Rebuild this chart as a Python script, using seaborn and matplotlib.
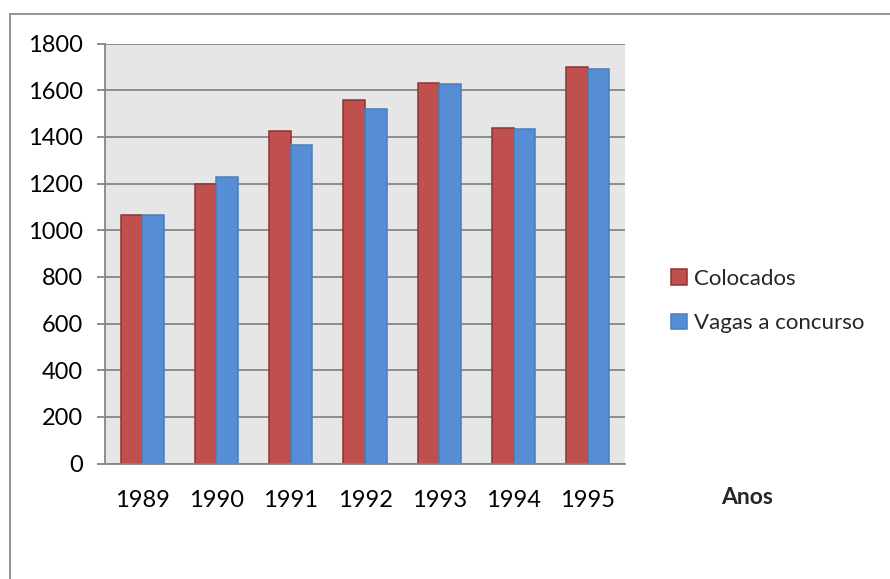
import matplotlib
matplotlib.use("Agg")
import matplotlib.pyplot as plt
import pandas as pd
import seaborn as sns
from matplotlib.lines import Line2D

years = ["1989", "1990", "1991", "1992", "1993", "1994", "1995"]
colocados = [1066, 1196, 1427, 1557, 1629, 1440, 1700]
vagas = [1066, 1227, 1363, 1519, 1627, 1434, 1691]
series_names = ["Colocados", "Vagas a concurso"]
y_ticks = [0, 200, 400, 600, 800, 1000, 1200, 1400, 1600, 1800]

df = pd.DataFrame({
    "Ano": years * 2,
    "Valor": colocados + vagas,
    "Serie": [series_names[0]] * len(years) + [series_names[1]] * len(years),
})

sns.set_theme(style="white")
plt.rcParams["font.family"] = ["Lato", "DejaVu Sans"]

W, H = 890, 579
fig = plt.figure(figsize=(W / 100, H / 100), dpi=100)
ax = fig.add_axes([105 / W, 1 - 463.5 / H, 520 / W, 420 / H])

fills = {"Colocados": "#C0504D", "Vagas a concurso": "#558ED5"}
edges = {"Colocados": "#8E3432", "Vagas a concurso": "#4A7EBB"}

sns.barplot(data=df, x="Ano", y="Valor", hue="Serie", hue_order=series_names,
            palette=fills, width=0.58, gap=0, ax=ax, legend=False,
            errorbar=None, saturation=1, zorder=3)
for cont, name in zip(ax.containers, series_names):
    for bar in cont:
        bar.set_edgecolor(edges[name])
        bar.set_linewidth(1.1)

grid_c = "#868686"
ax.set_facecolor("#E6E6E6")
ax.set_xlim(-0.5, len(years) - 0.5)
ax.set_ylim(0, 1800)
ax.set_yticks(y_ticks)
ax.yaxis.grid(True, color=grid_c, linewidth=1.3, zorder=0)
ax.set_axisbelow(True)
ax.set_xlabel("")
ax.set_ylabel("")
for s in ["top", "right"]:
    ax.spines[s].set_visible(False)
for s in ["left", "bottom"]:
    ax.spines[s].set_color(grid_c)
    ax.spines[s].set_linewidth(1.3)
    ax.spines[s].set_zorder(4)

# category labels centred under each pair, tick marks between categories
ax.set_xticks(range(len(years)))
ax.set_xticklabels(years)
ax.tick_params(axis="x", which="major", length=0, pad=19, labelsize=17, colors="black")
ax.set_xticks([i - 0.5 for i in range(len(years) + 1)], minor=True)
ax.tick_params(axis="x", which="minor", length=6, width=1.3, color=grid_c, direction="out")
ax.tick_params(axis="y", length=6, width=1.3, color=grid_c, direction="out", pad=10,
               labelsize=17, colors="black")
ax.xaxis.set_tick_params(which="minor", color=grid_c)
ax.yaxis.set_tick_params(color=grid_c)
ax.tick_params(left=True, bottom=True)

fig.text(747 / W, 1 - 498 / H, "Anos", fontsize=16.5, fontweight="bold",
         ha="center", va="center")

handles = [plt.Rectangle((0, 0), 1, 1, facecolor=fills[n], edgecolor=edges[n], linewidth=1.1)
           for n in series_names]
fig.legend(handles, series_names, loc="center left",
           bbox_to_anchor=(662 / W, 1 - 301 / H), frameon=False, fontsize=16,
           handlelength=0.72, handleheight=0.72, handletextpad=0.3,
           labelspacing=1.1, borderaxespad=0)

# chart frame (left and top edges)
fig.add_artist(Line2D([9.5 / W, 9.5 / W], [0, 1 - 13.5 / H], transform=fig.transFigure,
                      color="#8C8C8C", linewidth=1.3))
fig.add_artist(Line2D([9.5 / W, 1], [1 - 13.5 / H, 1 - 13.5 / H], transform=fig.transFigure,
                      color="#8C8C8C", linewidth=1.3))

fig.savefig("out.png", dpi=100, facecolor="white")
